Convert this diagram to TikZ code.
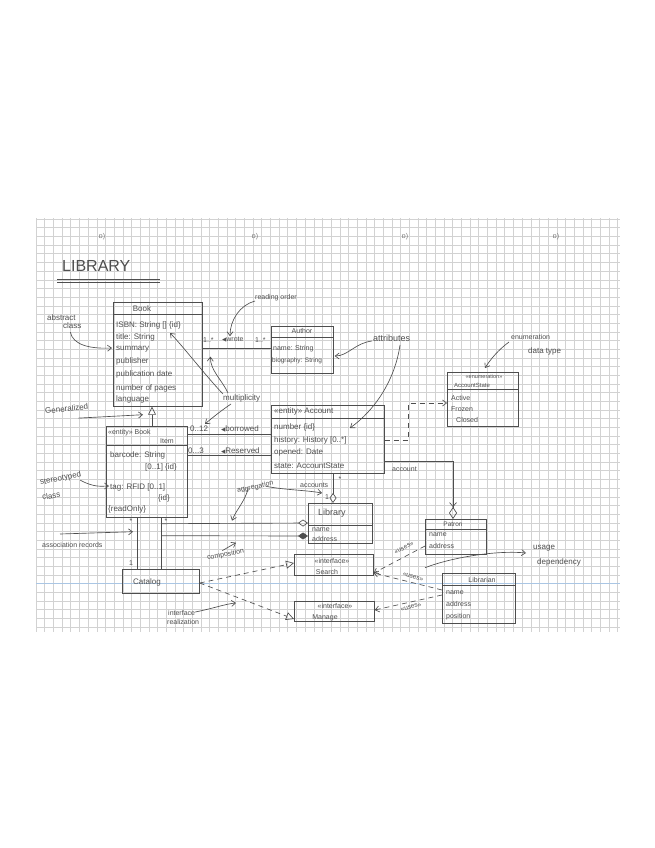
\documentclass[tikz,border=0pt]{standalone}
\usepackage{fontspec}
\setmainfont{Liberation Sans}
\newfontfamily\symfont{DejaVu Sans}
\usetikzlibrary{arrows.meta,calc}
\definecolor{pencil}{RGB}{78,78,78}
\definecolor{gridc}{RGB}{210,210,210}
\definecolor{blueline}{RGB}{170,198,228}
\newcommand{\fs}[1]{\fontsize{#1}{#1}\selectfont}
\newcommand{\tri}{{\symfont\fs{5.5}◀}}
\begin{document}
\begin{tikzpicture}[x=1pt,y=-1pt,
  every node/.style={text=pencil,inner sep=0pt,font=\fs{8}},
  ln/.style={draw=pencil,line width=0.65pt},
  dsh/.style={ln,dash pattern=on 5pt off 4pt},
  box/.style n args={2}{draw=pencil,line width=0.7pt,anchor=north west,minimum width=#1,minimum height=#2},
  lt/.style={anchor=west},
  oa/.style={-{Straight Barb[length=4pt,width=6pt]}},
  gen/.style={-{Triangle[open,length=8pt,width=8pt]}},
  agg/.style={-{Diamond[open,length=10pt,width=7pt]}},
  comp/.style={-{Diamond[length=10pt,width=7pt]}},
]
\useasboundingbox (0,0) rectangle (655,848);
% paper grid
\foreach \i in {0,...,67} \draw[gridc,line width=0.5pt] ({36+8.68*\i},218) -- ({36+8.68*\i},632);
\foreach \j in {0,...,47} \draw[gridc,line width=0.5pt] (36,{219+8.68*\j}) -- (620,{219+8.68*\j});
\draw[blueline,line width=0.9pt] (36,583.5) -- (620,583.5);
% hole marks
\foreach \x/\n in {102/h1,255/h2,405/h3,556/h4} \node[font=\fs{7},text=pencil!75] (\n) at (\x,237) {ɒ)};

% title
\node[lt,font=\fs{16}] (title) at (62,266) {LIBRARY};
\draw[ln] ($(title.south west)+(-5,8)$) -- ++(103,0);
\draw[ln] ($(title.south west)+(-5,11)$) -- ++(103,0);

% ---------- classes ----------
\node[box={89pt}{104pt}] (book) at (113,302) {};
\draw[ln] ($(book.north west)+(0,12)$) -- ($(book.north east)+(0,12)$);
\node (bookT) at (142,309) {Book};
\node[lt] (b1) at (116,325) {ISBN: String [] \{id\}};
\node[lt] (b2) at (116,337) {title: String};
\node[lt] (b3) at (116,349) {summary};
\node[lt] (b4) at (116,361) {publisher};
\node[lt] (b5) at (116,374) {publication date};
\node[lt] (b6) at (116,388) {number of pages};
\node[lt] (b7) at (116,399) {language};

\node[box={62pt}{47pt}] (author) at (271,326) {};
\draw[ln] ($(author.north west)+(0,11)$) -- ($(author.north east)+(0,11)$);
\node[font=\fs{7}] (authorT) at (302,331) {Author};
\node[lt,font=\fs{7}] (a1) at (273,349) {name: String};
\node[lt,font=\fs{6.5}] (a2) at (272,361) {biography: String};

\node[box={113pt}{68pt}] (account) at (271,405) {};
\draw[ln] ($(account.north west)+(0,13)$) -- ($(account.north east)+(0,13)$);
\node[lt] (accT) at (274,411) {«entity» Account};
\node[lt] (c1) at (274,427) {number \{id\}};
\node[lt] (c2) at (274,440) {history: History [0..*]};
\node[lt] (c3) at (274,452) {opened: Date};
\node[lt] (c4) at (274,466) {state: AccountState};

\node[box={81pt}{91pt}] (bookitem) at (106,426) {};
\draw[ln] ($(bookitem.north west)+(0,19)$) -- ($(bookitem.north east)+(0,19)$);
\node[lt,font=\fs{7}] (biT) at (108,433) {«entity» Book};
\node[lt,font=\fs{7}] (biT2) at (160,441) {Item};
\node[lt] (i1) at (110,455) {barcode: String};
\node[lt] (i2) at (145,467) {[0..1] \{id\}};
\node[lt] (i3) at (110,487) {tag: RFID [0..1]};
\node[lt] (i4) at (158,498) {\{id\}};
\node[lt] (i5) at (108,509) {\{readOnly\}};

\node[box={71pt}{54pt}] (accountstate) at (447,372) {};
\draw[ln] ($(accountstate.north west)+(0,17)$) -- ($(accountstate.north east)+(0,17)$);
\node[font=\fs{5.5}] (asT) at (484,377) {«enumeration»};
\node[font=\fs{6}] (asT2) at (472,385) {AccountState};
\node[lt,font=\fs{7}] (s1) at (451,398) {Active};
\node[lt,font=\fs{7}] (s2) at (451,409) {Frozen};
\node[lt,font=\fs{7}] (s3) at (456,420) {Closed};

\node[box={64pt}{40pt}] (library) at (308,503) {};
\draw[ln] ($(library.north west)+(0,22)$) -- ($(library.north east)+(0,22)$);
\node[lt,font=\fs{9}] (libT) at (318,513) {Library};
\node[lt,font=\fs{7}] (l1) at (312,530) {name};
\node[lt,font=\fs{7}] (l2) at (312,539) {address};

\node[box={77pt}{24pt}] (catalog) at (122,569) {};
\node[lt] (catT) at (133,582) {Catalog};

\node[box={79pt}{21pt}] (search) at (294,554) {};
\node[font=\fs{7}] (seT) at (332,561) {«interface»};
\node[font=\fs{7}] (seT2) at (327,572) {Search};

\node[box={80pt}{20pt}] (manage) at (294,601) {};
\node[font=\fs{7}] (maT) at (335,606) {«interface»};
\node[font=\fs{7}] (maT2) at (325,618) {Manage};

\node[box={61pt}{35pt}] (patron) at (425,519) {};
\draw[ln] ($(patron.north west)+(0,10)$) -- ($(patron.north east)+(0,10)$);
\node[font=\fs{6.5}] (paT) at (453,524) {Patron};
\node[lt,font=\fs{7}] (p1) at (429,535) {name};
\node[lt,font=\fs{7}] (p2) at (429,546) {address};

\node[box={73pt}{50pt}] (librarian) at (442,573) {};
\draw[ln] ($(librarian.north west)+(0,12)$) -- ($(librarian.north east)+(0,12)$);
\node[font=\fs{7}] (lbT) at (482,580) {Librarian};
\node[lt,font=\fs{7}] (r1) at (446,593) {name};
\node[lt,font=\fs{7}] (r2) at (446,604) {address};
\node[lt,font=\fs{7}] (r3) at (446,617) {position};

% ---------- relationships ----------
\draw[ln] ($(book.north east)+(0,46)$) -- ($(author.north west)+(0,22)$);
\node[lt,font=\fs{7}] (m1) at (203,340) {1..*};
\node[lt,font=\fs{7}] (wrote) at (222,340) {\tri wrote};
\node[lt,font=\fs{7}] (m2) at (255,340) {1..*};

\draw[ln,gen] ($(bookitem.north west)+(46,0)$) -- ($(book.south west)+(39,0)$);

\draw[ln] ($(bookitem.north east)+(0,8)$) -- ($(account.north west)+(0,29)$);
\node[lt] (m012) at (190,429) {0..12};
\node[lt] (borrowed) at (221,429) {\tri borrowed};
\draw[ln] ($(bookitem.north east)+(0,29)$) -- ($(account.north west)+(0,50)$);
\node[lt] (m03) at (188,451) {0...3};
\node[lt] (reserved) at (221,451) {\tri Reserved};

\draw[ln,agg] ($(account.south west)+(62,0)$) -- ($(library.north west)+(25,0)$);
\node[font=\fs{7}] (st1) at (340,479) {*};
\node[font=\fs{7}] (one1) at (327,497) {1};

\draw[dsh,-{Straight Barb[length=4pt,width=6pt]}] ($(account.north east)+(0,35)$) -- ++(24,0) |- ($(accountstate.north west)+(0,31)$);

\draw[ln,-{Straight Barb[length=4pt,width=7pt] Diamond[open,length=12pt,width=8pt]}] ($(account.north east)+(0,56)$) -| ($(patron.north west)+(28,0)$);
\node[lt,font=\fs{7}] (accL) at (392,469) {account};

\draw[ln] ($(bookitem.south west)+(31,0)$) -- ($(catalog.north west)+(15,0)$);
\draw[ln] ($(bookitem.south west)+(55,0)$) -- ($(catalog.north west)+(39,0)$);
\coordinate (j1) at ($(bookitem.south west)+(55,6)$);
\coordinate (j2) at ($(bookitem.south west)+(55,18)$);
\draw[ln,agg] (j1) -- ($(library.north west)+(0,20)$);
\draw[ln,comp] (j2) -- ($(library.north west)+(0,33)$);
\node[font=\fs{7}] (st2) at (131,521) {*};
\node[font=\fs{7}] (st3) at (166,521) {*};
\node[font=\fs{7}] (one2) at (131,563) {1};

\draw[dsh,gen] ($(catalog.north east)+(0,14)$) -- ($(search.north west)+(0,9)$);
\draw[dsh,gen] ($(catalog.north east)+(0,14)$) -- ($(manage.north west)+(0,18)$);

\draw[dsh,oa] ($(patron.north west)+(0,27)$) -- ($(search.north east)+(0,19)$);
\draw[dsh,oa] ($(librarian.north west)+(0,17)$) -- ($(search.north east)+(0,19)$);
\draw[dsh,oa] ($(librarian.north west)+(0,22)$) -- ($(manage.north east)+(0,9)$);
\node[font=\fs{6.5},rotate=28] (u1) at (404,548) {«uses»};
\node[font=\fs{6.5},rotate=-18] (u2) at (413,577) {«uses»};
\node[font=\fs{6.5},rotate=14] (u3) at (411,607) {«uses»};

% ---------- annotations ----------
\node[lt] (abs) at (47,318) {abstract};
\node[lt] (cls1) at (63,326) {class};
\draw[ln,oa] ($(cls1.south)+(-2,3)$) .. controls (73,345) and (90,349) .. ($(book.north west)+(-1,46)$);

\node[lt,font=\fs{7}] (read) at (255,298) {reading order};
\draw[ln,oa] ($(read.west)+(0,3)$) .. controls (240,305) and (230,320) .. ($(wrote.north west)+(8,-1)$);

\node[lt,font=\fs{9}] (attr) at (373,338) {attributes};
\draw[ln,oa] ($(attr.west)+(-1,3)$) .. controls (355,343) and (348,356) .. ($(author.north east)+(1,30)$);
\draw[ln,oa] ($(attr.west)+(27,7)$) .. controls (395,380) and (375,410) .. ($(account.north west)+(79,23)$);

\node[lt,font=\fs{7}] (enum) at (511,337) {enumeration};
\node[lt] (dtype) at (528,351) {data type};
\draw[ln,oa] ($(enum.west)+(-2,5)$) .. controls (498,350) and (490,360) .. ($(accountstate.north west)+(38,-4)$);

\node[lt] (mult) at (223,398) {multiplicity};
\draw[ln,oa] ($(mult.west)+(0,-4)$) .. controls (205,375) and (182,345) .. ($(book.north west)+(57,31)$);
\draw[ln,oa] ($(mult.west)+(5,-5)$) .. controls (222,380) and (210,370) .. ($(m1.south)+(2,14)$);
\draw[ln,oa] ($(mult.west)+(8,6)$) .. controls (222,410) and (212,418) .. ($(m012.north west)+(15,-2)$);

\node[lt,rotate=6] (gen) at (45,411) {Generalized};
\draw[ln,oa] ($(gen.south west)+(33,4)$) -- ($(book.south west)+(30,8)$);

\node[lt,rotate=12] (ster) at (40,483) {stereotyped};
\node[lt,rotate=8] (cls2) at (42,497) {class};
\draw[ln,oa] ($(ster.east)+(-1,6)$) .. controls (95,488) and (102,486) .. ($(bookitem.north west)+(3,60)$);

\node[lt,font=\fs{7}] (assoc) at (42,545) {association records};
\draw[ln,oa] ($(assoc.west)+(18,-11)$) -- ($(bookitem.south west)+(27,14)$);

\node[lt,font=\fs{7},rotate=12] (aggr) at (237,491) {aggregation};
\node[lt,font=\fs{7}] (accs) at (300,485) {accounts};
\draw[ln,oa] ($(aggr.south east)+(-26,2)$) .. controls (244,503) and (236,510) .. ($(bookitem.south west)+(126,3)$);
\draw[ln,oa] ($(aggr.east)+(-8,3)$) .. controls (285,490) and (305,490) .. ($(library.north west)+(14,-10)$);

\node[lt,font=\fs{7},rotate=10] (compo) at (207,558) {composition};
\draw[ln,oa] ($(compo.north west)+(16,-4)$) -- ($(bookitem.south west)+(130,25)$);

\node[lt,font=\fs{7}] (intf) at (168,613) {interface};
\node[lt,font=\fs{7}] (real) at (167,622) {realization};
\draw[ln,oa] ($(intf.east)+(0,-1)$) .. controls (215,608) and (225,604) .. ($(manage.north west)+(-58,2)$);

\node[lt] (usage) at (533,548) {usage};
\node[lt] (dep) at (537,562) {dependency};
\draw[ln,oa] ($(patron.south west)+(0,13)$) .. controls (450,558) and (495,550) .. ($(usage.west)+(-7,5)$);
\end{tikzpicture}
\end{document}
